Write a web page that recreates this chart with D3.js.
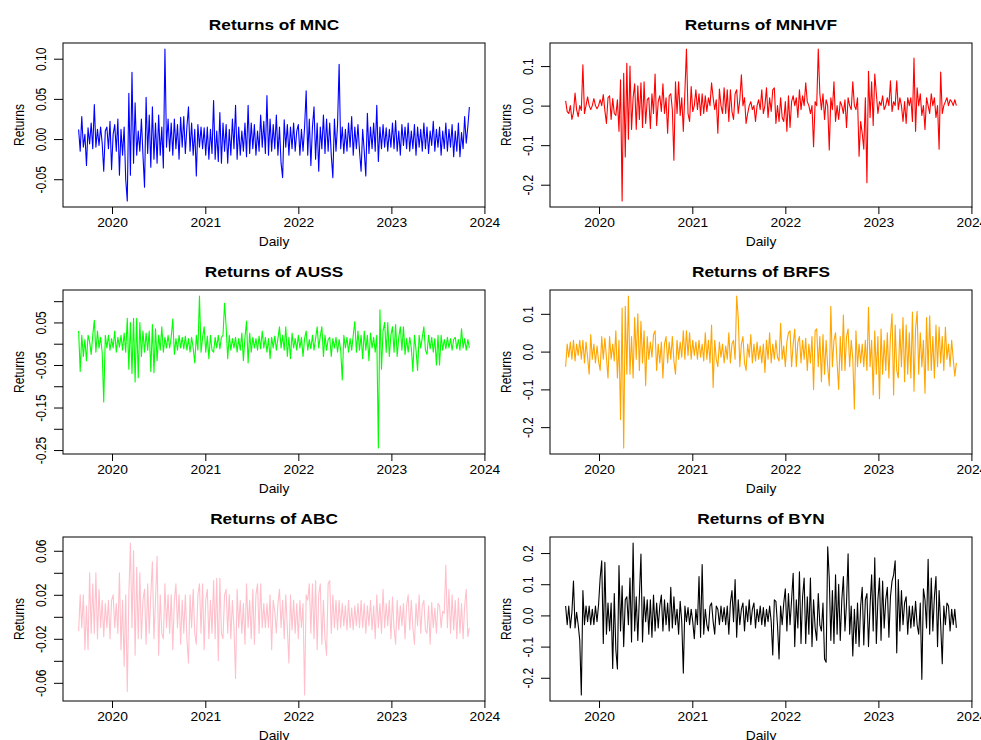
<!DOCTYPE html>
<html>
<head>
<meta charset="utf-8">
<script src="https://cdn.jsdelivr.net/npm/d3@7"></script>
<style>
  body { margin: 0; background: #fff; }
  text { font-family: "Liberation Sans", Arial, Helvetica, sans-serif; fill: #000; }
</style>
</head>
<body>
<svg id="chart" width="981" height="740"></svg>
<script>
// first and last trading day of the series, points are evenly spread between them
var firstDay = new Date(2019, 7, 23)
var lastDay = new Date(2023, 10, 3)
var yearTicks = [2020, 2021, 2022, 2023, 2024]

var mnc = [
  .012,-.015,.028,-.01,.006,-.033,.014,-.006,.02,-.012,
  .043,-.01,.012,-.008,.015,-.005,-.04,.01,.015,-.012,
  .022,-.038,.006,.018,-.015,.025,-.045,.012,-.02,.015,
  -.05,-.077,.057,-.045,.083,-.03,.045,-.02,.01,-.015,
  .025,-.02,-.06,.052,-.018,.03,-.035,.04,-.025,.02,
  -.03,.03,-.02,.015,-.036,.112,-.01,.025,-.015,.02,
  -.02,.025,-.012,.018,-.025,.027,-.01,.028,-.018,.015,
  .04,-.015,.02,-.02,.012,-.046,.018,-.01,.015,-.012,
  .014,-.02,.015,-.025,.012,-.018,.048,-.025,.01,-.028,
  .033,-.03,.02,-.015,.018,-.03,.012,-.02,.025,-.012,
  .042,-.025,.015,-.02,.01,-.015,.02,-.022,.042,-.018,
  .02,-.012,.018,-.02,.01,-.015,.03,-.01,.022,-.018,
  .054,-.02,.025,-.015,.018,-.012,.03,-.02,.015,-.03,
  -.048,.024,-.01,.018,-.02,.015,-.012,.02,-.015,.01,
  .018,-.02,.012,-.015,.015,.06,-.02,.025,-.033,.015,
  .04,-.025,.02,-.04,.015,-.012,.03,-.018,.025,-.015,
  .02,-.02,-.048,.025,-.015,.018,.093,-.012,.015,-.018,
  .012,-.015,.02,-.01,.028,-.02,.015,-.012,.018,-.015,
  -.04,.012,-.015,-.046,.032,-.018,.015,-.012,.02,-.015,
  .042,-.028,.015,-.012,.018,-.01,.014,-.015,.012,-.01,
  .02,-.012,.023,-.015,.01,-.02,.018,-.008,.015,-.012,
  .02,-.015,.01,-.012,.018,-.02,.015,-.01,.012,-.015,
  .02,-.012,.015,-.018,.01,-.008,.022,-.015,.012,-.01,
  .015,-.02,.01,-.012,.02,-.015,.012,-.01,.018,-.022,
  .01,-.015,.02,-.022,.008,-.012,.028,-.005,.015,.04
]

var mnhvf = [
  .012,-.015,-.02,0,-.035,-.018,.032,-.01,-.028,0,
  -.012,.103,-.02,0,.022,0,-.01,0,.018,0,
  -.008,0,.015,0,.028,-.012,-.045,.02,.025,-.035,
  .018,-.02,-.025,.015,-.065,.065,-.241,.082,-.13,.107,
  -.085,.1,-.06,.02,.055,-.06,.05,-.035,.058,-.055,
  .06,-.045,.015,.02,-.058,.03,-.02,.08,-.05,.01,
  .025,-.015,.055,-.02,.02,-.07,.025,.03,-.01,-.138,
  .06,-.02,.06,-.025,.02,-.065,.035,.143,-.02,-.04,
  .048,-.015,0,.04,-.01,.03,-.025,.03,-.02,.025,
  -.015,.02,0,.058,.02,-.01,.015,-.07,.042,0,
  -.02,.045,-.02,.04,-.04,.04,-.015,-.035,.03,.04,
  -.02,.015,.078,0,.02,-.045,-.02,0,.01,-.01,
  0,-.04,0,.015,-.01,.04,-.02,0,.045,-.03,
  .02,-.015,.04,.045,-.045,0,-.04,.02,-.03,-.04,
  .01,-.065,.025,-.055,.01,.025,0,.02,-.03,.04,
  -.01,.025,0,.058,.01,0,-.02,0,-.104,.01,
  0,.143,.03,-.01,.03,-.035,.015,0,-.112,.02,
  -.01,.06,-.04,0,-.035,.01,0,-.02,.015,-.055,
  .02,0,-.01,.06,0,-.01,.02,-.128,-.04,-.07,
  -.11,.02,-.195,.087,-.03,.06,-.05,.08,.03,-.02,
  .01,0,.025,-.01,0,.02,0,.063,-.015,.01,
  0,.063,-.01,.02,0,-.04,.01,-.045,.02,0,
  .02,-.04,.12,-.065,.045,0,.03,-.025,0,-.06,
  .02,0,-.02,.03,0,.02,-.03,0,-.11,.085,
  -.02,0,.01,.02,0,.015,.01,0,.015,0
]

var auss = [
  .03,-.065,.02,-.03,.01,-.04,.02,.005,-.025,.02,
  .055,-.02,.03,-.01,.015,-.02,-.137,.02,-.01,.02,
  -.015,.012,-.01,.03,-.02,.015,-.008,.02,-.015,.025,
  -.02,.06,-.06,.05,-.07,.06,-.09,.06,-.08,.05,
  -.03,.03,-.02,.025,-.015,.03,-.065,.045,-.068,.035,
  -.04,.02,-.015,.04,-.02,.015,-.01,.02,-.01,.015,
  .058,-.025,.012,-.015,.02,-.01,.015,-.012,.018,-.015,
  .012,-.02,.015,-.01,-.045,.02,-.015,.112,-.02,.015,
  .04,-.02,.018,-.035,.02,-.015,-.02,.015,-.01,.02,
  -.012,.015,.02,.095,.04,-.035,.02,-.015,.012,-.01,
  .015,-.02,.012,-.015,.025,-.04,.015,.053,-.045,.025,
  -.02,.015,-.01,.012,-.015,.018,-.012,.03,-.01,.015,
  -.02,.012,-.035,.015,-.01,.018,-.015,.012,.04,-.01,
  .02,-.015,.04,-.03,.015,-.035,.025,-.01,.012,-.015,
  .02,-.01,.015,-.03,.012,.03,-.015,.01,-.012,.02,
  -.015,.012,.04,-.01,.018,.04,-.03,.02,-.015,.01,
  .015,-.03,.012,-.01,.015,-.02,.01,-.015,-.085,.02,
  -.01,.015,-.02,.012,-.015,.02,.052,-.02,.03,-.015,
  .02,-.035,.03,-.015,.02,-.04,.025,-.01,.015,-.02,
  .02,-.245,.08,-.06,.03,.05,-.02,.05,-.03,.02,
  .04,-.02,.045,-.03,.015,.04,-.015,.04,-.025,.012,
  -.02,.015,-.01,-.065,.02,-.015,-.063,.02,-.01,.015,
  .04,-.015,-.025,.02,-.012,.015,-.02,.012,-.05,.02,
  -.05,.02,-.015,.01,-.012,.015,-.01,.012,-.015,.01,
  .015,-.012,.01,-.015,.035,-.01,.012,-.015,.01,-.01
]

var brfs = [
  -.04,.02,-.015,.025,-.02,.03,-.025,.02,-.01,.03,
  -.02,.03,-.03,.025,-.015,-.06,.045,-.02,.02,-.03,
  .015,-.025,-.05,.04,-.02,.035,-.015,-.07,.04,-.02,
  .02,-.025,.055,-.07,.03,-.18,.115,-.255,.12,-.06,
  .147,-.06,.04,-.07,.09,-.02,.1,-.05,.08,-.03,
  .055,-.09,.04,-.02,.025,-.015,.045,.055,-.05,.02,
  -.03,.025,-.07,.02,.04,-.03,.025,-.02,.04,-.025,
  -.06,.03,-.02,.025,-.015,.055,-.02,.055,-.01,.05,
  -.02,.03,-.01,.025,-.02,.03,-.015,.02,-.025,.05,
  -.02,.03,-.03,.07,-.095,.03,-.02,-.04,.025,-.015,
  .02,-.03,.015,-.02,.05,-.03,.02,.03,-.02,.147,
  .09,-.04,.02,.04,-.03,-.05,.02,-.015,.045,-.03,
  .02,-.025,.025,-.02,.015,-.03,.02,-.055,.03,-.02,
  .05,-.03,.02,-.02,.03,-.015,-.025,.075,-.02,.015,
  -.04,.025,.05,.055,-.04,.02,.06,-.04,.025,.04,
  -.03,.03,-.02,.035,-.05,.02,-.03,.04,-.1,.055,
  .06,-.04,.04,-.08,.045,-.06,.03,-.04,-.09,.12,
  -.04,.03,.05,-.03,-.1,.04,-.05,.097,-.05,.04,
  .06,-.04,.03,-.02,-.152,.055,-.04,.02,-.03,.02,
  -.04,.03,-.05,.117,-.04,.03,-.115,.055,-.06,.04,
  -.125,.06,-.06,.03,-.05,.05,-.07,.04,.1,-.115,
  .07,-.05,-.07,.06,-.04,.09,-.08,.07,-.06,.05,
  -.07,.105,-.105,.06,.107,-.06,.05,-.04,.03,-.11,
  .09,-.05,.095,-.05,.04,-.07,.07,-.04,.065,-.03,
  .04,-.05,.065,-.02,.02,-.04,.03,-.02,-.065,-.03
]

var abc = [
  -.013,.02,-.01,.02,-.03,.01,-.03,.04,-.015,.03,
  -.015,.04,-.02,.025,-.01,.015,-.018,.012,-.01,.015,
  -.02,.015,.02,-.01,.012,-.015,.04,-.03,.015,-.045,
  .02,-.068,.02,.067,-.01,.06,-.035,.045,-.02,.04,
  -.02,.015,.025,-.025,.03,-.015,.02,.05,-.02,.015,
  .055,-.035,.02,-.015,-.02,.03,-.01,.02,-.015,.02,
  -.03,.015,.03,-.01,.02,-.025,.015,-.015,.02,-.02,
  -.042,.02,-.01,.025,-.015,-.025,.02,.03,-.015,.03,
  -.03,.015,.025,-.02,.015,-.015,.033,-.02,.035,-.04,
  .035,-.015,-.02,.02,.025,-.015,.02,-.02,.015,-.01,
  -.056,.025,-.01,.015,-.015,.012,-.025,.03,-.01,.015,
  -.02,.025,-.025,.02,.03,-.015,.03,-.01,.012,-.01,
  .012,-.01,.02,-.03,.015,.005,-.015,.012,.025,-.01,
  .015,-.02,.02,-.01,-.042,.02,-.012,.015,-.015,.012,
  -.02,.015,-.01,.012,-.071,.02,.015,.03,-.015,.03,
  -.02,.033,-.03,.02,.03,-.025,.015,-.02,-.035,.03,
  .033,-.015,.02,-.01,.015,-.012,.015,-.01,.012,-.008,
  .01,-.012,.015,-.01,.008,-.012,.01,-.008,.012,-.01,
  .015,-.01,.012,-.015,.01,-.008,.015,-.012,.01,-.02,
  .02,-.01,.012,-.015,.025,-.01,.012,-.008,.015,-.02,
  .018,-.01,-.025,.015,-.012,.01,-.008,.012,-.02,.01,
  .02,-.012,.015,-.01,-.025,.012,-.008,.02,-.015,.01,
  .015,-.012,-.015,.01,-.025,.013,-.01,.008,-.015,.012,
  .01,-.01,.005,.003,.047,-.01,.025,-.015,.02,-.012,
  .015,-.02,.017,-.015,.012,-.02,.01,.025,-.018,-.01
]

var byn = [
  .03,-.03,.03,-.04,.01,.11,-.04,.01,-.03,-.08,
  -.255,.08,-.03,.03,-.02,.03,-.03,.02,-.03,.03,
  -.02,.035,.12,.175,-.09,.17,-.06,.04,-.05,.04,
  -.17,.07,-.11,-.172,.16,-.05,.095,-.1,.05,.06,
  -.03,.12,-.085,.232,-.05,.06,-.08,.06,.197,-.085,
  .06,-.02,.05,-.06,.05,-.07,.065,-.05,.04,-.04,
  .03,.065,-.05,.05,-.03,.04,-.05,.09,-.04,.06,
  -.03,.02,-.06,.045,-.02,-.185,.03,-.02,.025,-.03,
  .02,-.02,-.075,.02,-.03,.125,-.07,.163,-.06,.02,
  -.03,-.05,.03,.04,-.02,-.06,.03,.02,-.03,.03,
  -.02,.025,-.03,.03,-.06,.04,.08,-.02,.115,-.07,
  .05,-.03,.02,.04,-.05,.03,-.02,.05,-.03,.02,
  .04,-.04,.02,-.02,.03,-.03,.025,-.035,.02,-.02,
  .03,-.02,-.127,.05,.045,-.03,-.14,.03,-.03,.04,
  .085,-.05,.07,-.03,.05,.135,-.1,.05,-.04,.14,
  -.09,.06,.12,-.09,.06,-.06,.12,-.1,.05,-.04,
  -.08,.07,-.03,-.05,.04,-.14,-.15,.22,.12,-.08,
  .08,-.09,.13,-.06,.1,-.08,.05,.125,-.05,.04,
  .198,-.06,.03,-.13,.02,-.09,.04,-.1,.03,.09,
  -.095,.05,.07,-.1,.03,.13,-.05,.185,-.09,.05,
  .12,-.08,.11,-.04,.05,.09,-.07,.06,.11,.13,
  .175,-.12,.115,-.05,.08,-.03,.04,.06,-.06,.03,
  -.04,.03,-.035,.045,-.03,-.06,.04,-.205,.085,.05,
  -.04,.18,-.06,.12,-.05,.06,.125,-.1,.08,-.03,
  -.155,.03,-.03,.04,.03,-.05,.02,-.03,.02,-.04
]

// y axis ticks, R skips some labels when they would overlap
var mncTicks = [-0.05, 0, 0.05, 0.10]
var mncLabels = ["-0.05", "0.00", "0.05", "0.10"]
var mnhvfTicks = [-0.2, -0.1, 0, 0.1]
var mnhvfLabels = ["-0.2", "-0.1", "0.0", "0.1"]
var aussTicks = [-0.25, -0.20, -0.15, -0.10, -0.05, 0, 0.05, 0.10]
var aussLabels = ["-0.25", "", "-0.15", "", "-0.05", "", "0.05", ""]
var brfsTicks = [-0.2, -0.1, 0, 0.1]
var brfsLabels = ["-0.2", "-0.1", "0.0", "0.1"]
var abcTicks = [-0.06, -0.04, -0.02, 0, 0.02, 0.04, 0.06]
var abcLabels = ["-0.06", "", "-0.02", "", "0.02", "", "0.06"]
var bynTicks = [-0.2, -0.1, 0, 0.1, 0.2]
var bynLabels = ["-0.2", "-0.1", "0.0", "0.1", "0.2"]

var panels = [
  { name: "MNC",   values: mnc,   color: "#0000ff", ticks: mncTicks,   labels: mncLabels },
  { name: "MNHVF", values: mnhvf, color: "#ff0000", ticks: mnhvfTicks, labels: mnhvfLabels },
  { name: "AUSS",  values: auss,  color: "#00ff00", ticks: aussTicks,  labels: aussLabels },
  { name: "BRFS",  values: brfs,  color: "#ffa500", ticks: brfsTicks,  labels: brfsLabels },
  { name: "ABC",   values: abc,   color: "#ffc0cb", ticks: abcTicks,   labels: abcLabels },
  { name: "BYN",   values: byn,   color: "#000000", ticks: bynTicks,   labels: bynLabels }
]

// the picture is a bit wider than tall, so text gets stretched sideways
var stretch = 1.15
var colLeft = [63, 550]
var boxWidth = 422
var rowTop = [43, 290, 537]
var boxHeight = 164

var svg = d3.select("#chart")

panels.forEach(function(p, k) {
  var left = colLeft[k % 2]
  var top = rowTop[Math.floor(k / 2)]
  var bottom = top + boxHeight
  var n = p.values.length
  var dates = d3.range(n).map(function(i) {
    return new Date(+firstDay + i * (lastDay - firstDay) / (n - 1))
  })

  // R pads the data range by 4% on each side
  var span = lastDay - firstDay
  var x = d3.scaleTime()
    .domain([new Date(+firstDay - 0.04 * span), new Date(+lastDay + 0.04 * span)])
    .range([left, left + boxWidth])
  var ext = d3.extent(p.values)
  var pad = 0.04 * (ext[1] - ext[0])
  var y = d3.scaleLinear()
    .domain([ext[0] - pad, ext[1] + pad])
    .range([bottom, top])

  var g = svg.append("g")

  var line = d3.line()
    .x(function(d, i) { return x(dates[i]) })
    .y(function(d) { return y(d) })

  g.append("path")
    .datum(p.values)
    .attr("d", line)
    .attr("fill", "none")
    .attr("stroke", p.color)
    .attr("stroke-width", 1.1)
    .attr("stroke-linejoin", "round")

  // x axis with year ticks
  var xAxis = d3.axisBottom(x)
    .tickValues(yearTicks.map(function(yr) { return new Date(yr, 0, 1) }))
    .tickFormat(d3.timeFormat("%Y"))
    .tickSize(7)
    .tickSizeOuter(0)
  var xg = g.append("g")
    .attr("transform", "translate(0," + bottom + ")")
    .call(xAxis)
  xg.select(".domain").remove()
  xg.selectAll("text")
    .attr("y", null).attr("dy", null)
    .attr("font-size", 12)
    .attr("font-family", null)
    .attr("dominant-baseline", "central")
    .attr("transform", "translate(0,16) scale(" + stretch + ",1)")

  // y axis, labels turned like R does by default
  var yAxis = d3.axisLeft(y)
    .tickValues(p.ticks)
    .tickFormat(function(d, i) { return p.labels[i] })
    .tickSize(9)
    .tickSizeOuter(0)
  var yg = g.append("g")
    .attr("transform", "translate(" + left + ",0)")
    .call(yAxis)
  yg.select(".domain").remove()
  yg.selectAll("text")
    .attr("x", null).attr("dy", null)
    .attr("font-size", 12)
    .attr("font-family", null)
    .attr("text-anchor", "middle")
    .attr("dominant-baseline", "central")
    .attr("transform", "translate(-22,0) scale(" + stretch + ",1) rotate(-90)")

  // frame round the plot
  g.append("rect")
    .attr("x", left).attr("y", top)
    .attr("width", boxWidth).attr("height", boxHeight)
    .attr("fill", "none")
    .attr("stroke", "#000")
    .attr("stroke-width", 1)

  g.append("text")
    .attr("transform", "translate(" + (left + boxWidth / 2) + "," + (top - 19) + ") scale(" + stretch + ",1)")
    .attr("text-anchor", "middle")
    .attr("dominant-baseline", "central")
    .attr("font-size", 15)
    .attr("font-weight", "bold")
    .text("Returns of " + p.name)

  g.append("text")
    .attr("transform", "translate(" + (left + boxWidth / 2) + "," + (bottom + 35) + ") scale(" + stretch + ",1)")
    .attr("text-anchor", "middle")
    .attr("dominant-baseline", "central")
    .attr("font-size", 12)
    .text("Daily")

  g.append("text")
    .attr("transform", "translate(" + (left - 44) + "," + (top + boxHeight / 2) + ") scale(" + stretch + ",1) rotate(-90)")
    .attr("text-anchor", "middle")
    .attr("dominant-baseline", "central")
    .attr("font-size", 12)
    .text("Returns")
})
</script>
</body>
</html>
